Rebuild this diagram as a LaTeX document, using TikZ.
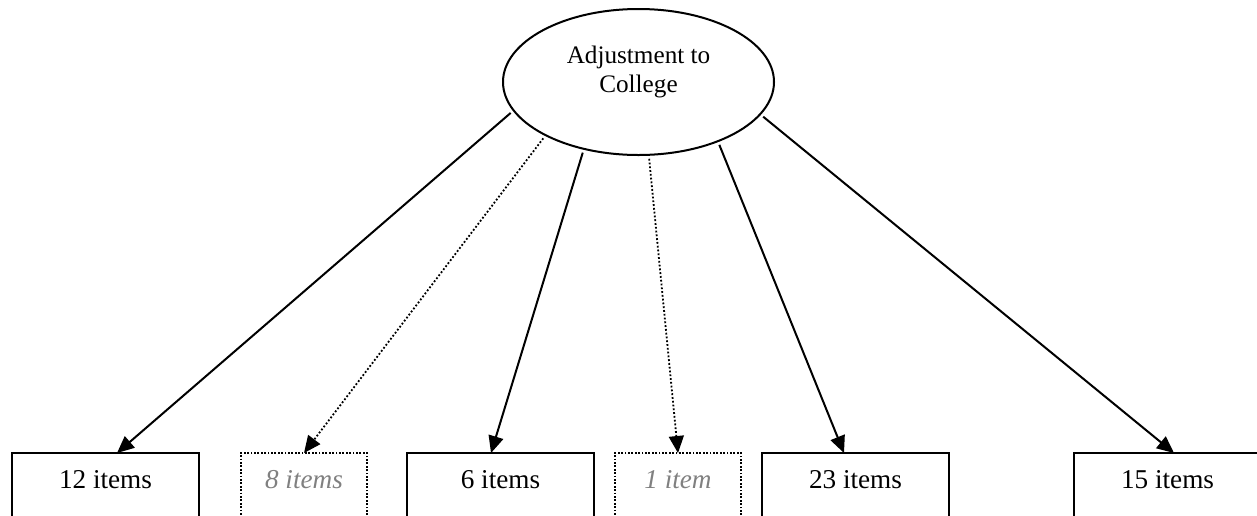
\documentclass[tikz,border=0pt]{standalone}
\usepackage{fontspec}
\setmainfont{Liberation Serif}
\usepackage{tikz}
\usetikzlibrary{arrows.meta,positioning,shapes.geometric}

\begin{document}
\begin{tikzpicture}[
    x=0.5pt, y=-0.5pt,
    latent/.style={ellipse, draw=black, line width=1pt, minimum width=135.5pt, minimum height=73pt, inner sep=0pt, align=center, font=\fontsize{12.6}{14.5}\selectfont, text depth=12.5pt},
    itembox/.style={rectangle, draw=black, line width=1pt, minimum width=93.5pt, outer sep=0pt, inner ysep=7.5pt, text height=10pt, text depth=40pt, font=\fontsize{13.6}{16}\selectfont},
    dropbox/.style={itembox, minimum width=63pt, line width=0.9pt, dash pattern=on 0.9pt off 0.8pt, text=black!50, font=\fontsize{13.6}{16}\selectfont\itshape},
    arrow/.style={-{Triangle[length=8.5pt, width=7.5pt]}, line width=1pt, shorten <=1.5pt},
    droparrow/.style={arrow, line width=0.9pt, dash pattern=on 0.9pt off 1pt},
]
\useasboundingbox (0,0) rectangle (1257,515);

% --- Factor ---
\node[latent] (adj) at (638.5,82) {Adjustment to\\College};

% --- Item parcels ---
\node[itembox, anchor=north west] (b1) at (12,453) {12 items};
\node[dropbox, right=21pt of b1] (b2) {8 items};
\node[itembox, right=20pt of b2] (b3) {6 items};
\node[dropbox, right=10.5pt of b3] (b4) {1 item};
\node[itembox, right=10.5pt of b4] (b5) {23 items};
\node[itembox, right=62.5pt of b5] (b6) {15 items};

% Loadings
\draw[arrow] (adj.193.8) -- ([xshift=5.75pt]b1.north);
\draw[droparrow] (adj.210.5) -- (b2.north);
\draw[arrow] (adj.231.8) -- ([xshift=-4.75pt]b3.north);
\draw[droparrow] (adj.278.7) -- (b4.north);
\draw[arrow] (adj.323.6) -- ([xshift=-5.75pt]b5.north);
\draw[arrow] (adj.345.9) -- ([xshift=3.25pt]b6.north);

\end{tikzpicture}
\end{document}
